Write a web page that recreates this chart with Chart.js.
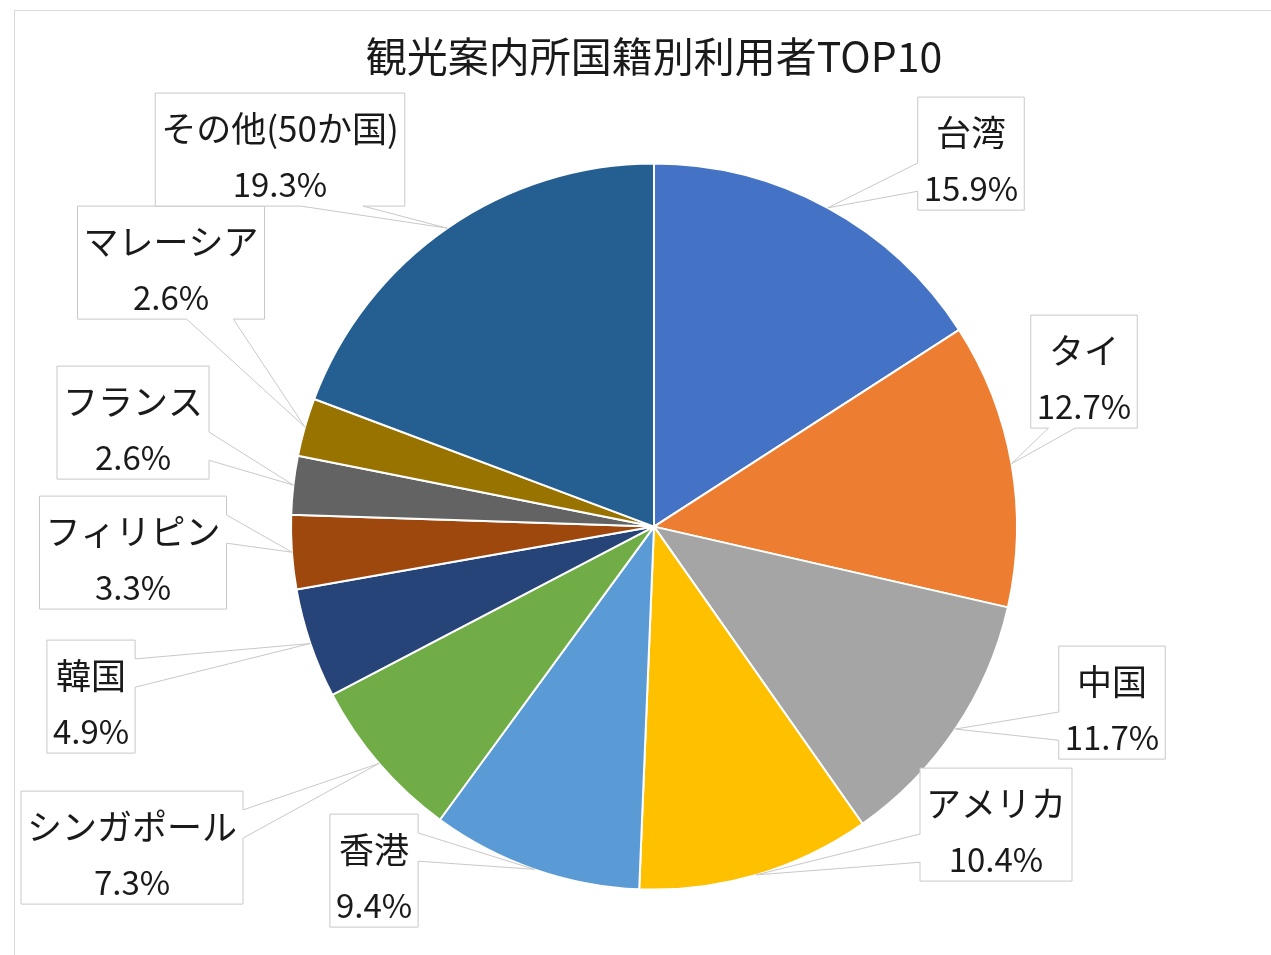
<!DOCTYPE html>
<html>
<head>
<meta charset="utf-8">
<script src="https://cdn.jsdelivr.net/npm/chart.js@4/dist/chart.umd.min.js"></script>
<style>
  html, body { margin: 0; padding: 0; background: #fff; overflow: hidden; }
  #wrap { position: relative; width: 1271px; height: 955px; }
  #frame { position: absolute; left: 14px; top: 10px; width: 1400px; height: 1100px; border: 1px solid #d9d9d9; }
  canvas { position: absolute; left: 0; top: 0; }
</style>
</head>
<body>
<div id="wrap">
  <div id="frame"></div>
  <canvas id="pieChart" width="1271" height="955"></canvas>
</div>
<script>
const chartTitle = '観光案内所国籍別利用者TOP10';
const countries = ['台湾', 'タイ', '中国', 'アメリカ', '香港', 'シンガポール', '韓国', 'フィリピン', 'フランス', 'マレーシア', 'その他(50か国)'];
const shares = [15.9, 12.7, 11.7, 10.4, 9.4, 7.3, 4.9, 3.3, 2.6, 2.6, 19.3];
const sliceColors = ['#4472c4', '#ed7d31', '#a5a5a5', '#ffc000', '#5b9bd5', '#70ad47', '#264478', '#9e480e', '#636363', '#997300', '#255e91'];

// where each callout box sits, measured from the pie centre
const calloutOffsets = [
    [317, -373], [430, -155], [458, 176], [342, 298], [-280, 344], [-522, 321],
    [-563, 170], [-521, 26], [-521, -104], [-483, -264], [-374, -377]
];

const nameFont = '35px "Noto Sans CJK JP", "Noto Sans", sans-serif';
const pctFont = '33px "Noto Sans CJK JP", "Noto Sans", sans-serif';

// Excel style wedge callouts: a box with a pointer to the middle of the slice edge
const calloutPlugin = {
    id: 'callouts',
    afterDatasetsDraw(chart) {
        const ctx = chart.ctx;
        const arcs = chart.getDatasetMeta(0).data;
        ctx.save();
        ctx.textAlign = 'center';
        ctx.textBaseline = 'middle';
        arcs.forEach((arc, i) => {
            const p = arc.getProps(['x', 'y', 'startAngle', 'endAngle', 'outerRadius'], true);
            const mid = (p.startAngle + p.endAngle) / 2;
            const tx = p.x + Math.cos(mid) * p.outerRadius;
            const ty = p.y + Math.sin(mid) * p.outerRadius;

            const line1 = countries[i];
            const line2 = shares[i].toFixed(1) + '%';
            ctx.font = nameFont;
            const w1 = ctx.measureText(line1).width;
            ctx.font = pctFont;
            const w2 = ctx.measureText(line2).width;
            const w = Math.max(w1, w2) + 12;
            const h = 113;
            const cx = p.x + calloutOffsets[i][0];
            const cy = p.y + calloutOffsets[i][1];
            const l = cx - w / 2, r = cx + w / 2, t = cy - h / 2, b = cy + h / 2;

            const nx = (tx - cx) / (w / 2);
            const ny = (ty - cy) / (h / 2);
            const pts = [];
            if (Math.abs(nx) > Math.abs(ny)) {
                const f = ty < cy ? [1 / 6, 5 / 12] : [7 / 12, 5 / 6];
                const y1 = t + h * f[0], y2 = t + h * f[1];
                if (nx > 0) {
                    pts.push([l, t], [r, t], [r, y1], [tx, ty], [r, y2], [r, b], [l, b]);
                } else {
                    pts.push([l, t], [r, t], [r, b], [l, b], [l, y2], [tx, ty], [l, y1]);
                }
            } else {
                const f = tx < cx ? [1 / 6, 5 / 12] : [7 / 12, 5 / 6];
                const x1 = l + w * f[0], x2 = l + w * f[1];
                if (ny > 0) {
                    pts.push([l, t], [r, t], [r, b], [x2, b], [tx, ty], [x1, b], [l, b]);
                } else {
                    pts.push([l, t], [x1, t], [tx, ty], [x2, t], [r, t], [r, b], [l, b]);
                }
            }

            ctx.beginPath();
            pts.forEach((pt, k) => k === 0 ? ctx.moveTo(pt[0], pt[1]) : ctx.lineTo(pt[0], pt[1]));
            ctx.closePath();
            ctx.fillStyle = '#ffffff';
            ctx.fill();
            ctx.lineWidth = 1;
            ctx.strokeStyle = '#c8c8c8';
            ctx.stroke();

            ctx.fillStyle = '#1a1a1a';
            ctx.font = nameFont;
            ctx.fillText(line1, cx, cy - 21);
            ctx.font = pctFont;
            ctx.fillText(line2, cx, cy + 35);
        });
        ctx.restore();
    }
};

let pieCtx = document.getElementById('pieChart').getContext('2d');
let pieChart = new Chart(pieCtx, {
    type: 'pie',
    data: {
        labels: countries,
        datasets: [{
            data: shares,
            backgroundColor: sliceColors,
            borderColor: '#ffffff',
            borderWidth: 2
        }]
    },
    options: {
        responsive: false,
        animation: false,
        layout: {
            padding: { left: 290, right: 253, top: 0, bottom: 64 }
        },
        plugins: {
            legend: { display: false },
            tooltip: { enabled: false },
            title: {
                display: true,
                text: chartTitle,
                color: '#1a1a1a',
                font: { family: '"Noto Sans CJK JP", "Noto Sans", sans-serif', size: 41, weight: 'normal', lineHeight: 1.2 },
                padding: { top: 32, bottom: 81 }
            }
        }
    },
    plugins: [calloutPlugin]
});
</script>
</body>
</html>
